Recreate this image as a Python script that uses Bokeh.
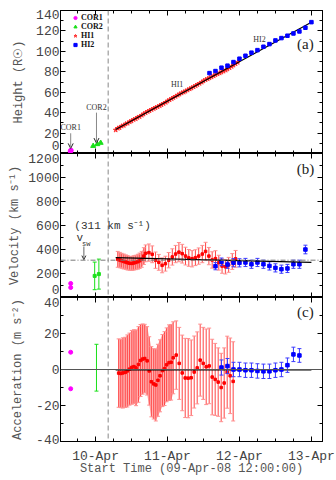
import numpy as np
from bokeh.plotting import figure
from bokeh.models import (Range1d, FixedTicker, LinearAxis, Span, Label, Arrow, OpenHead,
                          CustomJSTickFormatter)
from bokeh.layouts import column
from bokeh.embed import file_html
from bokeh.resources import INLINE

# ---------------- data (hours since 09-Apr-08 12:00:00) ----------------
day_ticks = [12, 36, 60, 84]
day_labels = ["10-Apr", "11-Apr", "12-Apr", "13-Apr"]

cor1_t = [3.6, 3.8]
cor1_h = [2.3, 3.0]
cor1_vt = [3.7, 3.7]
cor1_v = [117, 83]
cor1_at = [3.7, 3.7]
cor1_a = [9.6, -10.7]

cor2_t = [11.2, 12.6, 13.7]
cor2_h = [7.4, 9.1, 10.4]
cor2_vt = [11.7, 13.1]
cor2_v = [180, 195]
cor2_verr = [115, 125]
cor2_at = [12.3]
cor2_a = [1.0]
cor2_aerr = [13.0]

hi1_t = [18.7, 19.4, 20.0, 20.7, 21.4, 22.0, 22.7, 23.4, 24.0, 24.7, 25.4, 26.0, 26.7,
         27.4, 28.0, 28.7, 29.4, 30.0, 30.7, 31.4, 32.0, 32.7, 33.4, 34.0, 34.7, 35.4,
         36.0, 36.7, 37.4, 38.0, 38.7, 39.4, 40.0, 40.7, 41.4, 42.0, 42.7, 43.4, 44.0,
         44.7, 45.4, 46.0, 46.7, 47.4, 48.0, 48.7, 49.4, 50.0, 50.7, 51.4, 52.0, 52.7,
         53.4, 54.0, 54.7, 55.4, 56.0, 56.7, 57.4, 58.0, 58.7, 59.4]
hi1_h = [23.0, 24.7, 25.3, 26.8, 27.5, 28.9, 29.6, 31.1, 31.8, 33.2, 34.0, 35.3, 36.1,
         37.5, 38.6, 39.9, 41.1, 41.9, 43.0, 44.0, 44.8, 45.7, 46.8, 47.7, 48.9, 50.1,
         51.3, 52.5, 53.7, 54.8, 55.9, 57.1, 58.1, 59.2, 60.1, 61.0, 62.1, 63.2, 64.1,
         65.2, 66.4, 67.5, 68.6, 69.8, 71.0, 72.2, 73.1, 74.0, 74.9, 76.0, 77.0, 77.9,
         78.8, 79.7, 80.6, 81.6, 82.7, 83.9, 85.2, 86.5, 87.8, 89.2]

hi1_vt = [19.4, 20.1, 20.7, 21.4, 22.1, 22.7, 23.4, 24.1, 24.7, 25.4, 26.1, 26.7, 27.4,
          28.1, 28.7, 29.8, 30.9, 32.0, 33.1, 34.2, 35.3, 36.4, 37.6, 38.7, 39.8, 40.9,
          42.0, 43.1, 44.2, 45.3, 46.4, 47.6, 48.7, 49.8, 50.9, 52.0, 53.1, 54.2, 55.3,
          56.4, 57.6, 58.7]
hi1_v = [318, 312, 306, 300, 295, 289, 285, 284, 288, 292, 298, 306, 318, 345, 368,
         374, 360, 311, 293, 268, 282, 311, 338, 362, 378, 365, 345, 330, 323, 332,
         345, 362, 384, 345, 313, 324, 290, 262, 256, 272, 300, 322]
hi1_verr = [66, 64, 62, 62, 60, 60, 58, 58, 60, 60, 62, 64, 66, 70, 70,
            72, 70, 68, 66, 62, 62, 64, 68, 72, 80, 78, 74, 70, 68, 66,
            68, 72, 76, 72, 68, 66, 62, 60, 60, 62, 66, 70]

hi1_at = [19.7, 20.4, 21.1, 21.9, 22.6, 23.3, 24.1, 24.8, 25.5, 26.3, 27.0, 27.7, 28.4,
          29.2, 29.9, 30.6, 31.4, 32.1, 32.8, 33.5, 34.3, 35.0, 35.7, 36.5, 37.2, 37.9,
          38.9, 39.9, 40.9, 41.9, 42.9, 43.9, 44.9, 45.9, 46.9, 47.9, 48.9, 49.9, 50.9,
          51.9, 52.9, 53.9, 54.9, 55.9, 56.9, 57.9]
hi1_a = [-2.0, -2.2, -1.9, -1.6, -0.8, 0.2, 1.2, 1.6, 0.9, 2.8, 5.0, 5.8, 6.1,
         4.8, -0.8, -6.8, -8.0, -8.6, -6.0, -3.5, -0.6, 0.5, 2.6, 3.8, 4.0, 6.5,
         8.0, 3.4, -1.9, -4.7, -4.8, -4.6, -1.4, 0.9, 5.2, 3.4, 1.5, 2.0, -4.2,
         -5.5, -7.0, -10.0, -7.5, -1.5, -3.5, -6.6]
hi1_aerr = [19, 19, 19.5, 19.5, 20, 20, 20.5, 20.5, 21, 21, 20, 19.5, 19,
            19, 19, 19.5, 19.5, 20, 20, 20, 20, 20.5, 20.5, 21, 21, 20,
            19, 20, 21, 22, 22, 21, 20, 20, 20, 20, 21, 21, 21,
            20, 19, 19, 19.5, 20, 21, 22]

hi2_t = [50, 52, 54, 56, 58, 60, 62, 64, 66, 68, 70, 72, 74, 76, 78, 80, 82, 84]
hi2_h = [78.7, 80.7, 84.0, 86.0, 89.5, 92.8, 95.7, 98.7, 101.2, 104.5, 107.1, 110.7,
         113.0, 115.3, 117.5, 119.5, 123.1, 128.6]
hi2_vt = [52, 54, 56, 58, 60, 62, 64, 66, 68, 70, 72, 74, 76, 78, 80, 82]
hi2_v = [261, 297, 275, 290, 289, 292, 277, 292, 277, 263, 247, 236, 242, 277, 277, 400]
hi2_verr = [30, 32, 32, 34, 34, 34, 34, 34, 34, 34, 34, 34, 34, 34, 34, 36]
hi2_at = [54, 56, 58, 60, 62, 64, 66, 68, 70, 72, 74, 76, 78, 80]
hi2_a = [1.1, 1.9, 0.0, 0.0, -0.4, -0.4, -0.8, -1.0, -1.0, -0.4, 0.0, 2.4, 8.4, 7.8]
hi2_aerr = [4.2, 4.2, 4.0, 4.0, 4.0, 4.0, 4.0, 4.0, 4.0, 4.0, 4.0, 4.0, 4.0, 3.8]

fit_t = [18.7, 84.0]
fit_h = [23.4, 128.5]
fit_v = [333, 292]
fit_a = [-0.17, -0.17]
v_sw = 311
t_boundary = 16.2

# ---------------- styling ----------------
MONO = "Liberation Mono"
SERIF = "Liberation Serif"
RED = "#ff2a2a"
BLUE = "#0000ff"
GREEN = "#19e019"
MAG = "#ff00ff"

XR = Range1d(0.3, 87.7)
X_MINOR = list(range(0, 90, 6))


def base_axis_style(ax):
    ax.major_tick_in = 5
    ax.major_tick_out = 0
    ax.minor_tick_in = 3
    ax.minor_tick_out = 0
    ax.axis_line_color = "black"
    ax.major_tick_line_color = "black"
    ax.minor_tick_line_color = "black"
    ax.major_label_text_font = MONO
    ax.major_label_text_color = "#444"
    ax.axis_label_text_font = MONO
    ax.axis_label_text_font_style = "normal"
    ax.axis_label_text_color = "#555"
    ax.axis_label_text_font_size = "12px"


def hide_labels(ax, ticks):
    ax.major_label_overrides = {t: "" for t in ticks}
    ax.major_label_text_font_size = "0px"
    ax.major_label_standoff = 0


def make_fig(frame_h, yr, top, bottom, yticks, yminor, step, shift_px, ylabel,
             lab_standoff, show_x):
    p = figure(width=336, height=frame_h + top + bottom, x_range=XR,
               y_range=Range1d(*yr), output_backend="svg", toolbar_location=None,
               min_border_left=60, min_border_right=14,
               min_border_top=top, min_border_bottom=bottom)
    p.grid.visible = False
    p.outline_line_color = "black"
    xt = FixedTicker(ticks=day_ticks, minor_ticks=X_MINOR)
    yt = FixedTicker(ticks=yticks, minor_ticks=yminor)

    # tick-mark axes (inward ticks on all four sides)
    p.add_layout(LinearAxis(ticker=xt), "above")
    p.add_layout(LinearAxis(ticker=yt), "right")
    p.below[0].ticker = xt
    p.left[0].ticker = yt
    for ax in p.above + p.below + p.left + p.right:
        base_axis_style(ax)
    for ax in p.above + p.right + p.left:
        hide_labels(ax, day_ticks if ax in p.above else yticks)

    ba = p.below[0]
    if show_x:
        ba.major_label_text_font_size = "13px"
        ba.major_label_standoff = 7
        ba.major_label_overrides = dict(zip(day_ticks, day_labels))
        ba.axis_label = "Start Time (09-Apr-08 12:00:00)"
        ba.axis_label_standoff = -5
    else:
        hide_labels(ba, day_ticks)

    # label axis: same values, edge labels nudged inward like the original
    units_per_px = (yr[1] - yr[0]) / frame_h
    pos = list(yticks)
    pos[0] = yticks[0] + shift_px[0] * units_per_px
    pos[-1] = yticks[-1] - shift_px[1] * units_per_px
    lab_ax = LinearAxis(ticker=FixedTicker(ticks=pos, minor_ticks=[]),
                        formatter=CustomJSTickFormatter(
                            code="return String(Math.round(tick / %d) * %d);" % (step, step)))
    base_axis_style(lab_ax)
    lab_ax.axis_line_color = None
    lab_ax.major_tick_line_color = None
    lab_ax.minor_tick_line_color = None
    lab_ax.major_label_text_font_size = "13px"
    lab_ax.major_label_standoff = 1
    lab_ax.axis_label = ylabel
    lab_ax.axis_label_standoff = lab_standoff
    p.add_layout(lab_ax, "left")

    p.add_layout(Span(location=t_boundary, dimension="height", line_color="#888888",
                      line_dash="5 3", line_width=1))
    return p


def errorbars(p, t, y, e, color, cap_color, cap, lw=1):
    t = np.asarray(t, float)
    y = np.asarray(y, float)
    e = np.asarray(e, float)
    p.segment(x0=t, y0=y - e, x1=t, y1=y + e, line_color=color, line_width=lw)
    p.scatter(np.r_[t, t], np.r_[y - e, y + e], marker="dash", size=cap,
              line_color=cap_color, line_width=1)


def text(p, x, y, s, size, font=SERIF, color="#333", align="center"):
    p.add_layout(Label(x=x, y=y, text=s, text_align=align, text_baseline="middle",
                       text_font=font, text_font_size=size, text_color=color))


# ---------------- panel (a) ----------------
p1 = make_fig(143, (0, 140), 10, 0, list(range(0, 141, 20)), list(range(0, 141, 10)),
              20, (8, 4), "Height (R\u2609)", 7, False)

p1.scatter(hi1_t, hi1_h, marker="star", size=5, fill_color=RED, line_color=RED,
           alpha=0.85, legend_label="HI1")
p1.line(fit_t, fit_h, line_color="black", line_width=1.2)
p1.scatter(hi2_t, hi2_h, marker="square", size=3.5, fill_color=BLUE, line_color=BLUE,
           legend_label="HI2")
p1.scatter(cor2_t, cor2_h, marker="triangle", size=5, fill_color=GREEN, line_color=GREEN,
           legend_label="COR2")
p1.scatter(cor1_t, cor1_h, marker="circle", size=4.5, fill_color=MAG, line_color=MAG,
           legend_label="COR1")

lg = p1.legend[0]
lg.items = [lg.items[3], lg.items[2], lg.items[0], lg.items[1]]
lg.location = (11, 104)
lg.glyph_width = 8
lg.glyph_height = 9
lg.label_height = 9
lg.label_standoff = 2
lg.padding = 0
lg.spacing = 0
lg.margin = 0
lg.border_line_color = None
lg.background_fill_alpha = 0
lg.label_text_font = SERIF
lg.label_text_font_style = "bold"
lg.label_text_font_size = "8px"
lg.label_text_color = "#111"

for txt, tx, ty0, ty1, ly in [("COR1", 3.7, 19.8, 5.0, 25.0), ("COR2", 12.3, 40.0, 10.2, 44.9)]:
    text(p1, tx, ly, txt, "8px")
    p1.add_layout(Arrow(x_start=tx, y_start=ty0, x_end=tx, y_end=ty1, line_color="#888",
                        line_width=1, end=OpenHead(size=5, line_color="#222", line_width=1)))
text(p1, 39.2, 67.4, "HI1", "8px")
text(p1, 66.7, 111.7, "HI2", "8px")
text(p1, 82, 107.5, "(a)", "15px", color="#222")

# ---------------- panel (b) ----------------
p2 = make_fig(144, (0, 1200), 0, 0, list(range(0, 1201, 200)), list(range(0, 1201, 100)),
              200, (8, 4), "Velocity (km s\u207b\u00b9)", 3, False)

p2.add_layout(Span(location=v_sw, dimension="width", line_color="#777", line_dash="5 2 1 2",
                   line_width=1))
vt = np.asarray(hi1_vt, float)
vv = np.asarray(hi1_v, float)
ve = np.asarray(hi1_verr, float)
dense_v = vt <= 28.8
p2.varea(x=vt[dense_v], y1=(vv - ve)[dense_v], y2=(vv + ve)[dense_v], fill_color="#ffb4b4")
errorbars(p2, hi1_vt, hi1_v, hi1_verr, "#ff4545", "#ff9090", 4)
p2.scatter(hi1_vt, hi1_v, marker="square", size=2.5, fill_color="red", line_color="red")
errorbars(p2, hi2_vt, hi2_v, hi2_verr, "#3a3aff", "#3a3aff", 4)
p2.scatter(hi2_vt, hi2_v, marker="square", size=3.5, fill_color=BLUE, line_color=BLUE)
p2.line(fit_t, fit_v, line_color="black", line_width=1.2)
errorbars(p2, cor2_vt, cor2_v, cor2_verr, GREEN, GREEN, 4)
p2.scatter(cor2_vt, cor2_v, marker="square", size=3, fill_color=GREEN, line_color=GREEN)
p2.scatter(cor1_vt, cor1_v, marker="circle", size=4, fill_color=MAG, line_color=MAG)

text(p2, 17.7, 594, "(311 km s\u207b\u00b9)", "11px", font=MONO)
text(p2, 6.7, 492, "v", "11px", font=MONO)
text(p2, 8.9, 450, "sw", "7px", font=MONO)
p2.add_layout(Arrow(x_start=8.1, y_start=425, x_end=8.1, y_end=316, line_color="#666",
                    line_width=1, end=OpenHead(size=4, line_color="#333", line_width=1)))
text(p2, 82, 1075, "(b)", "15px", color="#222")

# ---------------- panel (c) ----------------
p3 = make_fig(144, (-40, 40), 0, 38, list(range(-40, 41, 20)), list(range(-40, 41, 10)),
              20, (2, 4), "Acceleration (m s\u207b\u00b2)", 8, True)

p3.add_layout(Span(location=0, dimension="width", line_color="#555", line_width=1))
at = np.asarray(hi1_at, float)
av = np.asarray(hi1_a, float)
ae = np.asarray(hi1_aerr, float)
dense_a = at <= 38.0
p3.varea(x=at[dense_a], y1=(av - ae)[dense_a], y2=(av + ae)[dense_a], fill_color="#ffb4b4")
errorbars(p3, hi1_at, hi1_a, hi1_aerr, "#ff4545", "#ff9090", 4)
p3.scatter(hi1_at, hi1_a, marker="square", size=2.5, fill_color="red", line_color="red")
p3.line(fit_t, fit_a, line_color="black", line_width=1.5)
errorbars(p3, hi2_at, hi2_a, hi2_aerr, "#3a3aff", "#3a3aff", 4)
p3.scatter(hi2_at, hi2_a, marker="square", size=3.5, fill_color=BLUE, line_color=BLUE)
errorbars(p3, cor2_at, cor2_a, cor2_aerr, GREEN, GREEN, 4)
p3.scatter(cor1_at, cor1_a, marker="circle", size=4, fill_color=MAG, line_color=MAG)
text(p3, 82, 31.7, "(c)", "15px", color="#222")

layout = column(p1, p2, p3, spacing=0)
open("out.html", "w").write(file_html(layout, INLINE, title="CME kinematics"))
